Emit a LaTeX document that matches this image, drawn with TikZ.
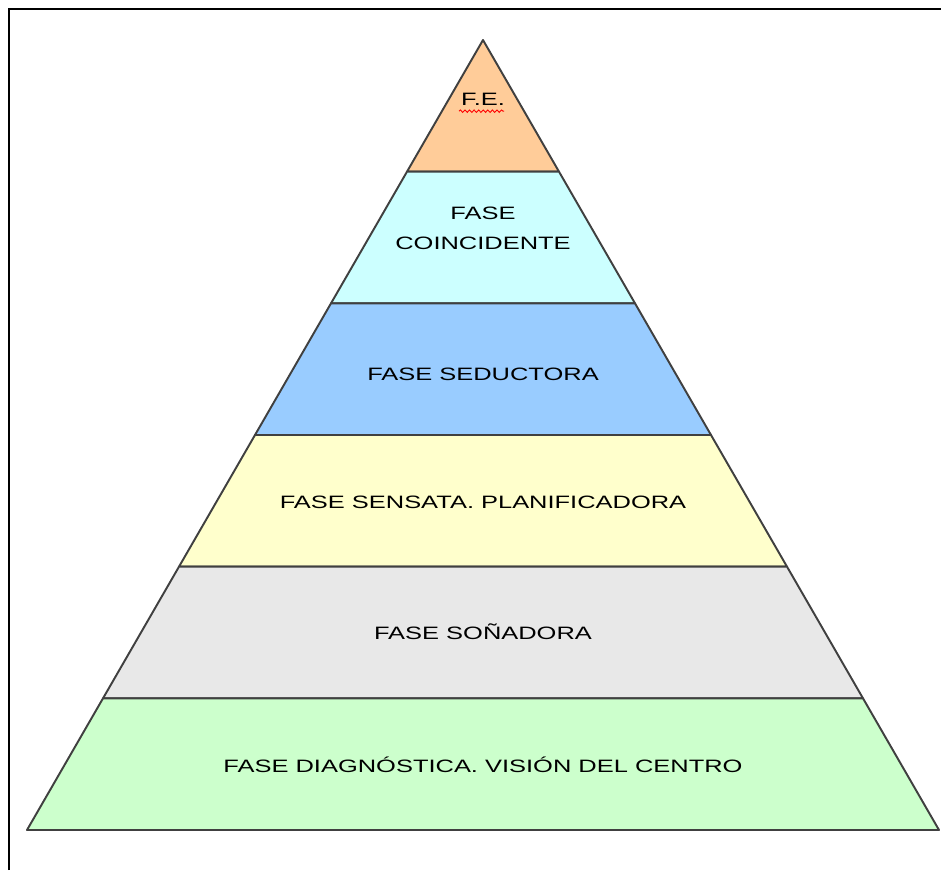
\documentclass[tikz,border=0pt]{standalone}
\usepackage{fontspec}
\newfontfamily\phasefont[FakeStretch=1.42]{Liberation Sans}
\usetikzlibrary{calc,decorations.pathmorphing}
\definecolor{fecolor}{HTML}{FFCC99}
\definecolor{coincolor}{HTML}{CCFFFF}
\definecolor{seduccolor}{HTML}{99CCFF}
\definecolor{sensatacolor}{HTML}{FFFFCC}
\definecolor{suenocolor}{HTML}{E8E8E8}
\definecolor{diagcolor}{HTML}{CCFFCC}
\definecolor{edgecolor}{HTML}{404040}
\tikzset{
  band/.style={draw=edgecolor, line width=1.1pt, line join=round},
  band label/.style={font=\phasefont\fontsize{10.2}{17}\selectfont, align=center, inner sep=1pt},
  spell mark/.style={draw=red, line width=0.5pt, decorate,
    decoration={snake, amplitude=0.7pt, segment length=2.6pt}}
}

\begin{document}
\begin{tikzpicture}[x=0.2mm,y=-0.2mm]
  \useasboundingbox (0,0) rectangle (941,870);
  \draw[line width=1.7pt] (9,870) -- (9,9) -- (941,9);

  \coordinate (apex) at (483,40);
  \coordinate (base_w) at (27,830);
  \coordinate (base_e) at (939,830);

  \foreach \n/\col in {1/fecolor,2/coincolor,3/seduccolor,4/sensatacolor,5/suenocolor,6/diagcolor}
  {
    \pgfmathsetmacro{\ta}{(\n-1)/6}
    \pgfmathsetmacro{\tb}{\n/6}
    \draw[band,fill=\col] ($(apex)!\ta!(base_w)$) -- ($(apex)!\tb!(base_w)$)
      -- ($(apex)!\tb!(base_e)$) -- ($(apex)!\ta!(base_e)$) -- cycle;
  }

  \foreach \n/\y/\txt in {1/99/{F.E.},2/228/{FASE\\COINCIDENTE},3/374/{FASE SEDUCTORA},
    4/502/{FASE SENSATA. PLANIFICADORA},5/632/{FASE SOÑADORA},6/765/{FASE DIAGNÓSTICA. VISIÓN DEL CENTRO}}
  {
    \node[band label] (phase_\n) at (483,\y) {\txt};
  }

  \draw[spell mark] ($(phase_1.base west)+(0,6)$) -- ($(phase_1.base east)+(-3,6)$);
\end{tikzpicture}
\end{document}
